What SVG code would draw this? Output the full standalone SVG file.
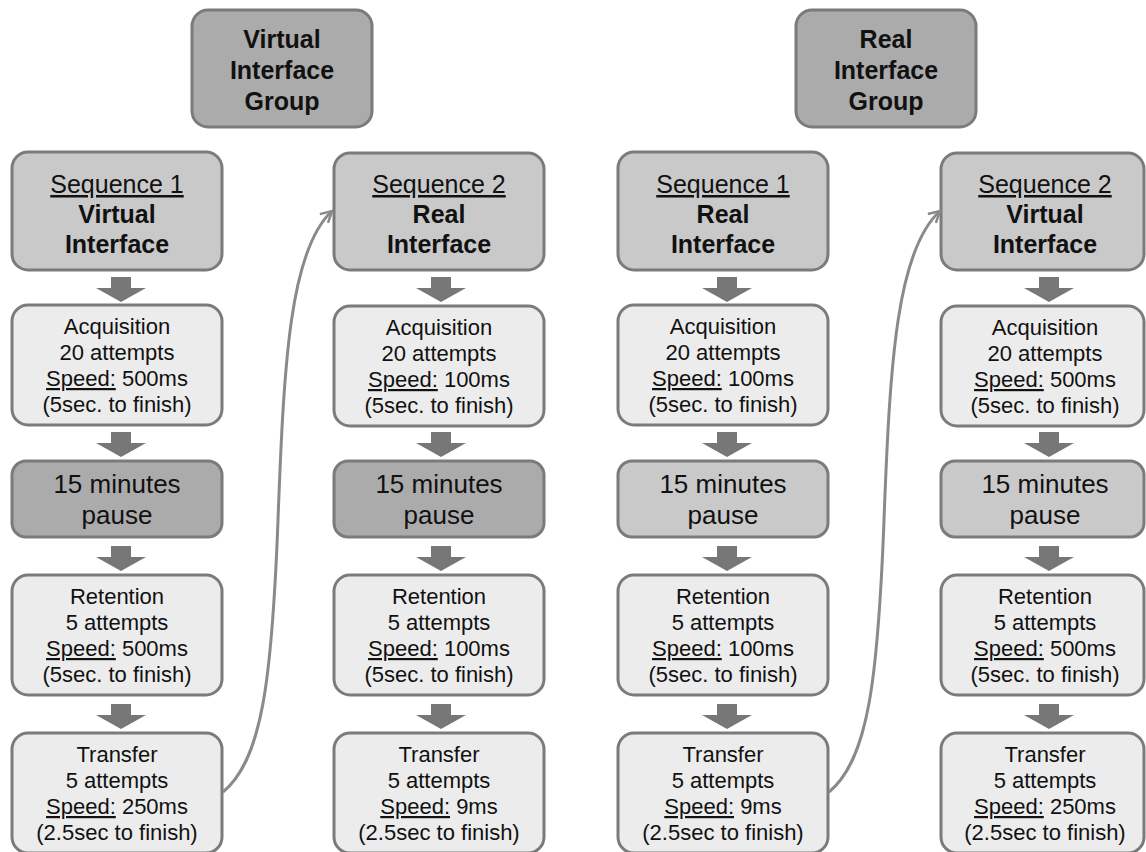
<svg xmlns="http://www.w3.org/2000/svg" width="1146" height="852" viewBox="0 0 1146 852">
<style>
.box{stroke:#7b7b7b;stroke-width:3}
.grp{fill:#ababab}
.hdr{fill:#c9c9c9}
.pd{fill:#ababab}
.pl{fill:#c9c9c9}
.inf{fill:#ececec}
text{font-family:"Liberation Sans",Arial,sans-serif;fill:#111;text-anchor:middle}
.b25{font-size:25px;font-weight:bold}
.n25{font-size:25px}
.n22{font-size:22px}
.n26{font-size:26px}
.u{text-decoration:underline}
.arr{fill:#777777}
.conn{fill:none;stroke:#8a8a8a;stroke-width:3}
</style>
<defs>
<marker id="open" viewBox="0 0 14 14" refX="12" refY="7" markerWidth="14" markerHeight="14" markerUnits="userSpaceOnUse" orient="auto">
<path d="M1,1 L12,7 L1,13" fill="none" stroke="#8a8a8a" stroke-width="2.5"/>
</marker>
<path id="da" d="M-10,0 H10 V11 H25 L0,25 L-25,11 H-10 Z"/>
</defs>

<g id="group-virtual">
<rect class="box grp" x="192" y="10" width="180" height="117" rx="16"/>
<text class="b25" x="282" y="48">Virtual</text>
<text class="b25" x="282" y="79">Interface</text>
<text class="b25" x="282" y="110">Group</text>
</g>
<g id="group-real">
<rect class="box grp" x="796" y="10" width="180" height="117" rx="16"/>
<text class="b25" x="886" y="48">Real</text>
<text class="b25" x="886" y="79">Interface</text>
<text class="b25" x="886" y="110">Group</text>
</g>

<!-- Column 1 -->
<g id="c1-seq">
<rect class="box hdr" x="12" y="152" width="210" height="118" rx="16"/>
<text class="n25 u" x="117" y="193">Sequence 1</text>
<text class="b25" x="117" y="223">Virtual</text>
<text class="b25" x="117" y="253">Interface</text>
</g>
<g id="c1-acq">
<rect class="box inf" x="12" y="305" width="210" height="120" rx="16"/>
<text class="n22" x="117" y="334">Acquisition</text>
<text class="n22" x="117" y="360">20 attempts</text>
<text class="n22" x="117" y="386"><tspan class="u">Speed:</tspan> 500ms</text>
<text class="n22" x="117" y="412">(5sec. to finish)</text>
</g>
<g id="c1-pause">
<rect class="box pd" x="12" y="461" width="210" height="76" rx="14"/>
<text class="n26" x="117" y="493">15 minutes</text>
<text class="n26" x="117" y="524">pause</text>
</g>
<g id="c1-ret">
<rect class="box inf" x="12" y="575" width="210" height="120" rx="16"/>
<text class="n22" x="117" y="604">Retention</text>
<text class="n22" x="117" y="630">5 attempts</text>
<text class="n22" x="117" y="656"><tspan class="u">Speed:</tspan> 500ms</text>
<text class="n22" x="117" y="682">(5sec. to finish)</text>
</g>
<g id="c1-tra">
<rect class="box inf" x="12" y="733" width="210" height="120" rx="16"/>
<text class="n22" x="117" y="762">Transfer</text>
<text class="n22" x="117" y="788">5 attempts</text>
<text class="n22" x="117" y="814"><tspan class="u">Speed:</tspan> 250ms</text>
<text class="n22" x="117" y="840">(2.5sec to finish)</text>
</g>

<!-- Column 2 -->
<g id="c2-seq">
<rect class="box hdr" x="334" y="153" width="210" height="117" rx="16"/>
<text class="n25 u" x="439" y="193">Sequence 2</text>
<text class="b25" x="439" y="223">Real</text>
<text class="b25" x="439" y="253">Interface</text>
</g>
<g id="c2-acq">
<rect class="box inf" x="334" y="306" width="210" height="120" rx="16"/>
<text class="n22" x="439" y="335">Acquisition</text>
<text class="n22" x="439" y="361">20 attempts</text>
<text class="n22" x="439" y="387"><tspan class="u">Speed:</tspan> 100ms</text>
<text class="n22" x="439" y="413">(5sec. to finish)</text>
</g>
<g id="c2-pause">
<rect class="box pd" x="334" y="461" width="210" height="76" rx="14"/>
<text class="n26" x="439" y="493">15 minutes</text>
<text class="n26" x="439" y="524">pause</text>
</g>
<g id="c2-ret">
<rect class="box inf" x="334" y="575" width="210" height="120" rx="16"/>
<text class="n22" x="439" y="604">Retention</text>
<text class="n22" x="439" y="630">5 attempts</text>
<text class="n22" x="439" y="656"><tspan class="u">Speed:</tspan> 100ms</text>
<text class="n22" x="439" y="682">(5sec. to finish)</text>
</g>
<g id="c2-tra">
<rect class="box inf" x="334" y="733" width="210" height="120" rx="16"/>
<text class="n22" x="439" y="762">Transfer</text>
<text class="n22" x="439" y="788">5 attempts</text>
<text class="n22" x="439" y="814"><tspan class="u">Speed:</tspan> 9ms</text>
<text class="n22" x="439" y="840">(2.5sec to finish)</text>
</g>

<!-- Column 3 -->
<g id="c3-seq">
<rect class="box hdr" x="618" y="152" width="210" height="118" rx="16"/>
<text class="n25 u" x="723" y="193">Sequence 1</text>
<text class="b25" x="723" y="223">Real</text>
<text class="b25" x="723" y="253">Interface</text>
</g>
<g id="c3-acq">
<rect class="box inf" x="618" y="305" width="210" height="120" rx="16"/>
<text class="n22" x="723" y="334">Acquisition</text>
<text class="n22" x="723" y="360">20 attempts</text>
<text class="n22" x="723" y="386"><tspan class="u">Speed:</tspan> 100ms</text>
<text class="n22" x="723" y="412">(5sec. to finish)</text>
</g>
<g id="c3-pause">
<rect class="box pl" x="618" y="461" width="210" height="76" rx="14"/>
<text class="n26" x="723" y="493">15 minutes</text>
<text class="n26" x="723" y="524">pause</text>
</g>
<g id="c3-ret">
<rect class="box inf" x="618" y="575" width="210" height="120" rx="16"/>
<text class="n22" x="723" y="604">Retention</text>
<text class="n22" x="723" y="630">5 attempts</text>
<text class="n22" x="723" y="656"><tspan class="u">Speed:</tspan> 100ms</text>
<text class="n22" x="723" y="682">(5sec. to finish)</text>
</g>
<g id="c3-tra">
<rect class="box inf" x="618" y="733" width="210" height="120" rx="16"/>
<text class="n22" x="723" y="762">Transfer</text>
<text class="n22" x="723" y="788">5 attempts</text>
<text class="n22" x="723" y="814"><tspan class="u">Speed:</tspan> 9ms</text>
<text class="n22" x="723" y="840">(2.5sec to finish)</text>
</g>

<!-- Column 4 -->
<g id="c4-seq">
<rect class="box hdr" x="941" y="153" width="203" height="117" rx="16"/>
<text class="n25 u" x="1045" y="193">Sequence 2</text>
<text class="b25" x="1045" y="223">Virtual</text>
<text class="b25" x="1045" y="253">Interface</text>
</g>
<g id="c4-acq">
<rect class="box inf" x="941" y="306" width="203" height="120" rx="16"/>
<text class="n22" x="1045" y="335">Acquisition</text>
<text class="n22" x="1045" y="361">20 attempts</text>
<text class="n22" x="1045" y="387"><tspan class="u">Speed:</tspan> 500ms</text>
<text class="n22" x="1045" y="413">(5sec. to finish)</text>
</g>
<g id="c4-pause">
<rect class="box pl" x="941" y="461" width="203" height="76" rx="14"/>
<text class="n26" x="1045" y="493">15 minutes</text>
<text class="n26" x="1045" y="524">pause</text>
</g>
<g id="c4-ret">
<rect class="box inf" x="941" y="575" width="203" height="120" rx="16"/>
<text class="n22" x="1045" y="604">Retention</text>
<text class="n22" x="1045" y="630">5 attempts</text>
<text class="n22" x="1045" y="656"><tspan class="u">Speed:</tspan> 500ms</text>
<text class="n22" x="1045" y="682">(5sec. to finish)</text>
</g>
<g id="c4-tra">
<rect class="box inf" x="941" y="733" width="203" height="120" rx="16"/>
<text class="n22" x="1045" y="762">Transfer</text>
<text class="n22" x="1045" y="788">5 attempts</text>
<text class="n22" x="1045" y="814"><tspan class="u">Speed:</tspan> 250ms</text>
<text class="n22" x="1045" y="840">(2.5sec to finish)</text>
</g>

<g id="connectors">
<g class="arr">
<use href="#da" x="121" y="277"/><use href="#da" x="121" y="432"/><use href="#da" x="121" y="546"/><use href="#da" x="121" y="704"/>
<use href="#da" x="441" y="277"/><use href="#da" x="441" y="432"/><use href="#da" x="441" y="546"/><use href="#da" x="441" y="704"/>
<use href="#da" x="727" y="277"/><use href="#da" x="727" y="432"/><use href="#da" x="727" y="546"/><use href="#da" x="727" y="704"/>
<use href="#da" x="1049" y="277"/><use href="#da" x="1049" y="432"/><use href="#da" x="1049" y="546"/><use href="#da" x="1049" y="704"/>
</g>
<path class="conn" d="M223,792 C262,760 272,680 278,520 C284,360 290,250 332,211" marker-end="url(#open)"/>
<path class="conn" d="M829,792 C868,760 878,680 884,520 C890,360 897,250 940,211" marker-end="url(#open)"/>
</g>
</svg>
